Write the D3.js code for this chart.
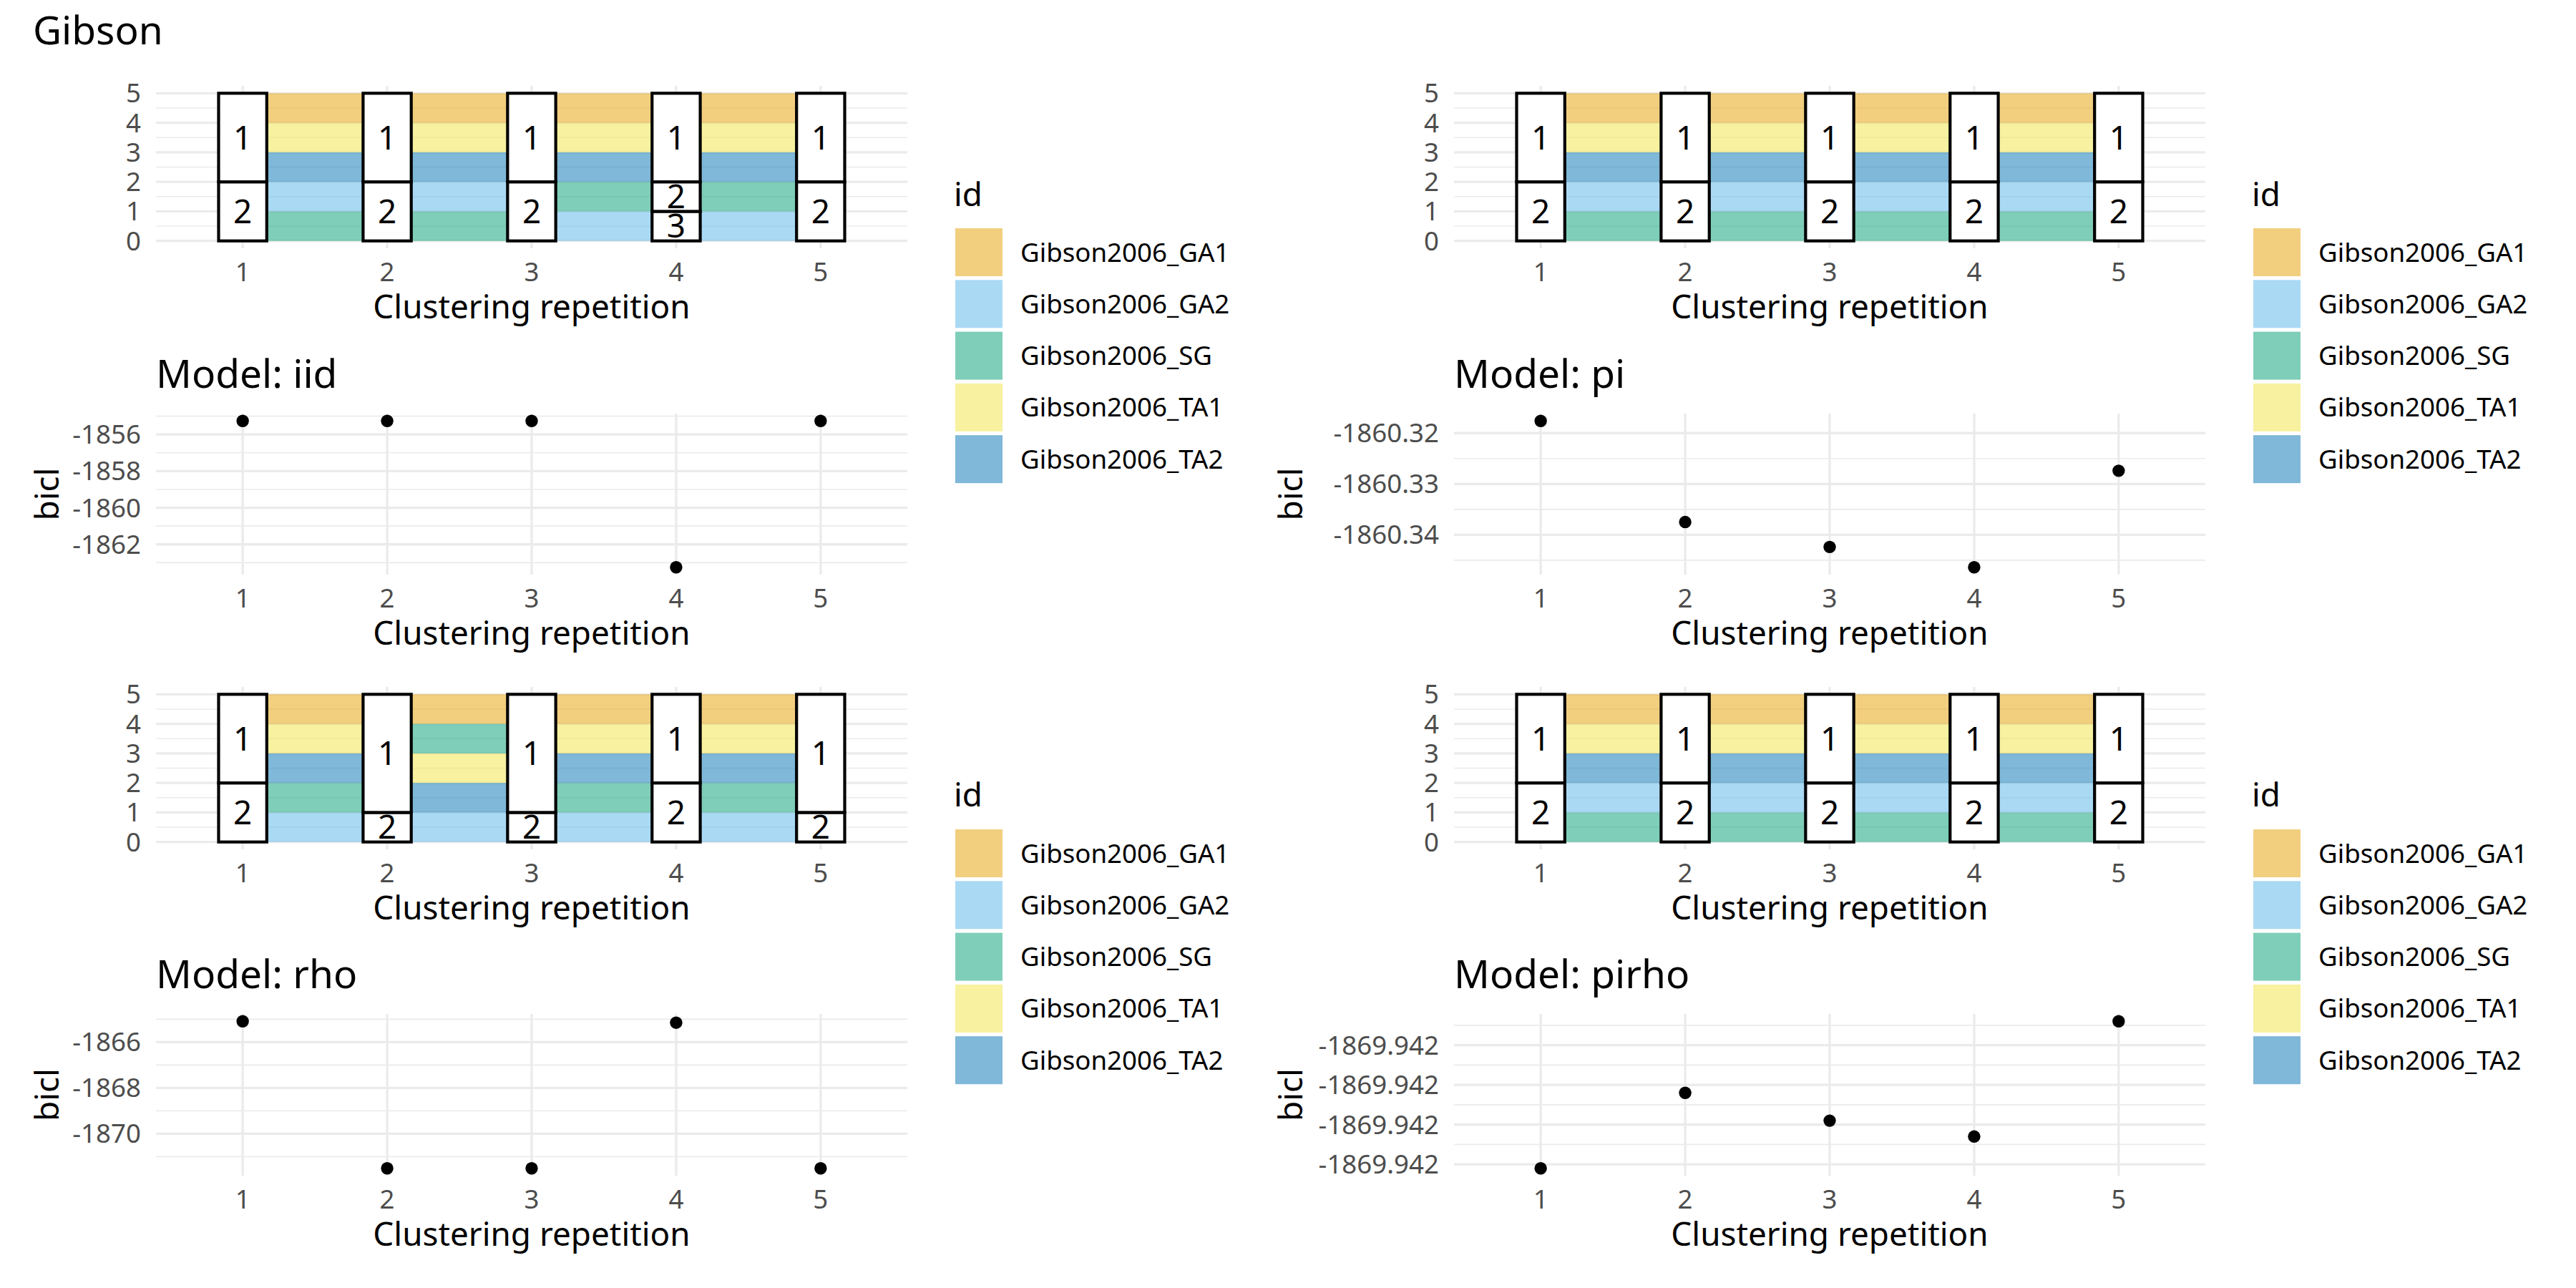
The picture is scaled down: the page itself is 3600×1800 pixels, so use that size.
<!DOCTYPE html>
<html><head><meta charset="utf-8">
<script src="https://cdn.jsdelivr.net/npm/d3@7"></script>
<style>
body{margin:0;background:#fff}
svg{display:block}
text{font-family:"Noto Sans",sans-serif}
</style>
</head><body>
<svg id="chart" width="3600" height="1800"></svg>
<script>
// ---------------- DATA ----------------
const reps = [1, 2, 3, 4, 5];
const ids = ["Gibson2006_GA1", "Gibson2006_GA2", "Gibson2006_SG", "Gibson2006_TA1", "Gibson2006_TA2"];
const idColors = ["#E69F00", "#56B4E9", "#009E73", "#F0E442", "#0072B2"];
const countTicks = [0, 1, 2, 3, 4, 5];

// stratum sizes / labels per repetition, bottom to top
const iidStrataSizes  = [[2, 3], [2, 3], [2, 3], [1, 1, 3], [2, 3]];
const iidStrataLabels = [["2", "1"], ["2", "1"], ["2", "1"], ["3", "2", "1"], ["2", "1"]];
const piStrataSizes   = [[2, 3], [2, 3], [2, 3], [2, 3], [2, 3]];
const piStrataLabels  = [["2", "1"], ["2", "1"], ["2", "1"], ["2", "1"], ["2", "1"]];
const rhoStrataSizes  = [[2, 3], [1, 4], [1, 4], [2, 3], [1, 4]];
const rhoStrataLabels = [["2", "1"], ["2", "1"], ["2", "1"], ["2", "1"], ["2", "1"]];
const pirhoStrataSizes  = [[2, 3], [2, 3], [2, 3], [2, 3], [2, 3]];
const pirhoStrataLabels = [["2", "1"], ["2", "1"], ["2", "1"], ["2", "1"], ["2", "1"]];

// flow order between consecutive repetitions, bottom to top (each id has size 1)
const iidFlows = [
  ["Gibson2006_SG", "Gibson2006_GA2", "Gibson2006_TA2", "Gibson2006_TA1", "Gibson2006_GA1"],
  ["Gibson2006_SG", "Gibson2006_GA2", "Gibson2006_TA2", "Gibson2006_TA1", "Gibson2006_GA1"],
  ["Gibson2006_GA2", "Gibson2006_SG", "Gibson2006_TA2", "Gibson2006_TA1", "Gibson2006_GA1"],
  ["Gibson2006_GA2", "Gibson2006_SG", "Gibson2006_TA2", "Gibson2006_TA1", "Gibson2006_GA1"]
];
const piFlows = [
  ["Gibson2006_SG", "Gibson2006_GA2", "Gibson2006_TA2", "Gibson2006_TA1", "Gibson2006_GA1"],
  ["Gibson2006_SG", "Gibson2006_GA2", "Gibson2006_TA2", "Gibson2006_TA1", "Gibson2006_GA1"],
  ["Gibson2006_SG", "Gibson2006_GA2", "Gibson2006_TA2", "Gibson2006_TA1", "Gibson2006_GA1"],
  ["Gibson2006_SG", "Gibson2006_GA2", "Gibson2006_TA2", "Gibson2006_TA1", "Gibson2006_GA1"]
];
const rhoFlows = [
  ["Gibson2006_GA2", "Gibson2006_SG", "Gibson2006_TA2", "Gibson2006_TA1", "Gibson2006_GA1"],
  ["Gibson2006_GA2", "Gibson2006_TA2", "Gibson2006_TA1", "Gibson2006_SG", "Gibson2006_GA1"],
  ["Gibson2006_GA2", "Gibson2006_SG", "Gibson2006_TA2", "Gibson2006_TA1", "Gibson2006_GA1"],
  ["Gibson2006_GA2", "Gibson2006_SG", "Gibson2006_TA2", "Gibson2006_TA1", "Gibson2006_GA1"]
];
const pirhoFlows = [
  ["Gibson2006_SG", "Gibson2006_GA2", "Gibson2006_TA2", "Gibson2006_TA1", "Gibson2006_GA1"],
  ["Gibson2006_SG", "Gibson2006_GA2", "Gibson2006_TA2", "Gibson2006_TA1", "Gibson2006_GA1"],
  ["Gibson2006_SG", "Gibson2006_GA2", "Gibson2006_TA2", "Gibson2006_TA1", "Gibson2006_GA1"],
  ["Gibson2006_SG", "Gibson2006_GA2", "Gibson2006_TA2", "Gibson2006_TA1", "Gibson2006_GA1"]
];

// bicl per repetition
const iidBicl   = [-1855.26, -1855.26, -1855.26, -1863.25, -1855.26];
const piBicl    = [-1860.3176, -1860.3375, -1860.3424, -1860.3464, -1860.3274];
const rhoBicl   = [-1865.09, -1871.51, -1871.51, -1865.15, -1871.51];
const pirhoBicl = [-1869.942031, -1869.942012, -1869.942019, -1869.942023, -1869.941994];

// y tick values and labels
const iidTicks = [-1862, -1860, -1858, -1856];
const iidTickLabels = ["-1862", "-1860", "-1858", "-1856"];
const piTicks = [-1860.34, -1860.33, -1860.32];
const piTickLabels = ["-1860.34", "-1860.33", "-1860.32"];
const rhoTicks = [-1870, -1868, -1866];
const rhoTickLabels = ["-1870", "-1868", "-1866"];
const pirhoTicks = [-1869.94203, -1869.94202, -1869.94201, -1869.942];
const pirhoTickLabels = ["-1869.942", "-1869.942", "-1869.942", "-1869.942"];

// ---------------- LAYOUT / STYLE ----------------
const svg = d3.select("#chart");
const PX = 4.1667;               // px per pt
const FS_TICK = 8.8 * PX, FS_AXIS = 11 * PX, FS_TITLE = 13.2 * PX, FS_LEG = 8.8 * PX;
const GRID = "#EBEBEB", MAJ = 3.3, MIN = 1.65, TICKCOL = "#4D4D4D", BOX = 4.2;
const cols = [{x0: 218, x1: 1268, ylabX: 82, legX: 1335}, {x0: 2032, x1: 3082, ylabX: 1820, legX: 3149}];
const alluvRows = [{y0: 120, y1: 347, legTitleY: 288, legKeyY: 319}, {y0: 960, y1: 1187, legTitleY: 1127, legKeyY: 1159}];
const scatRows = [{y0: 578, y1: 803}, {y0: 1417, y1: 1643}];

const color = d3.scaleOrdinal().domain(ids).range(idColors);

svg.append("text").attr("x", 46).attr("y", 62).attr("font-size", FS_TITLE).attr("fill", "#000").text("Gibson");

function xScaleFor(col) {
  return d3.scaleLinear().domain([d3.min(reps) - 0.6, d3.max(reps) + 0.6]).range([col.x0, col.x1]);
}
function minorOf(ticks, dom) {
  const step = ticks[1] - ticks[0];
  const out = [];
  for (let i = -1; i < ticks.length; i++) {
    const v = ticks[0] + (i + 0.5) * step;
    if (v >= dom[0] && v <= dom[1]) out.push(v);
  }
  return out;
}
function xAxisCommon(g, x, row, col) {
  g.selectAll(".xt").data(reps).join("text")
    .attr("x", d => x(d)).attr("y", row.y1 + 45.5).attr("text-anchor", "middle")
    .attr("font-size", FS_TICK).attr("fill", TICKCOL).text(d => d);
  g.append("text").attr("x", (col.x0 + col.x1) / 2).attr("y", row.y1 + 98)
    .attr("text-anchor", "middle").attr("font-size", FS_AXIS).attr("fill", "#000").text("Clustering repetition");
}
function yGrid(g, y, ticks, minors, col) {
  g.selectAll(".ymin").data(minors).join("line")
    .attr("x1", col.x0).attr("x2", col.x1).attr("y1", d => y(d)).attr("y2", d => y(d))
    .attr("stroke", GRID).attr("stroke-width", MIN);
  g.selectAll(".ymaj").data(ticks).join("line")
    .attr("x1", col.x0).attr("x2", col.x1).attr("y1", d => y(d)).attr("y2", d => y(d))
    .attr("stroke", GRID).attr("stroke-width", MAJ);
}
function xGrid(g, x, y) {
  const r = y.range();
  g.selectAll(".xmaj").data(reps).join("line")
    .attr("x1", d => x(d)).attr("x2", d => x(d)).attr("y1", r[0]).attr("y2", r[1])
    .attr("stroke", GRID).attr("stroke-width", MAJ);
}

function drawAlluvial(col, row, sizes, labels, flows) {
  const g = svg.append("g");
  const x = xScaleFor(col);
  const total = d3.sum(sizes[0]);
  const y = d3.scaleLinear().domain([0 - 0.05 * total, total * 1.05]).range([row.y1, row.y0]);
  const ticks = countTicks;
  yGrid(g, y, ticks, minorOf(ticks, y.domain()), col);
  xGrid(g, x, y);
  const hw = 1 / 6;
  // flows
  const flowData = [];
  flows.forEach((order, gi) => {
    let cum = 0;
    order.forEach(id => { flowData.push({gap: gi, id, y0: cum, y1: cum + 1}); cum += 1; });
  });
  g.selectAll(".flow").data(flowData).join("rect")
    .attr("x", d => x(reps[d.gap] + hw)).attr("width", d => x(reps[d.gap + 1] - hw) - x(reps[d.gap] + hw))
    .attr("y", d => y(d.y1)).attr("height", d => y(d.y0) - y(d.y1))
    .attr("fill", d => color(d.id)).attr("fill-opacity", 0.5);
  // strata
  const strata = [];
  sizes.forEach((s, ri) => {
    let cum = 0;
    s.forEach((v, k) => { strata.push({rep: reps[ri], y0: cum, y1: cum + v, label: labels[ri][k]}); cum += v; });
  });
  g.selectAll(".stratum").data(strata).join("rect")
    .attr("x", d => x(d.rep - hw)).attr("width", x(1 + hw) - x(1 - hw))
    .attr("y", d => y(d.y1)).attr("height", d => y(d.y0) - y(d.y1))
    .attr("fill", "#fff").attr("stroke", "#000").attr("stroke-width", BOX);
  g.selectAll(".slab").data(strata).join("text")
    .attr("x", d => x(d.rep)).attr("y", d => y((d.y0 + d.y1) / 2) + 0.357 * FS_AXIS)
    .attr("text-anchor", "middle").attr("font-size", FS_AXIS).attr("fill", "#000").text(d => d.label);
  // y tick labels
  g.selectAll(".yt").data(ticks).join("text")
    .attr("x", col.x0 - 21).attr("y", d => y(d) + 0.357 * FS_TICK).attr("text-anchor", "end")
    .attr("font-size", FS_TICK).attr("fill", TICKCOL).text(d => d);
  xAxisCommon(g, x, row, col);
  // legend
  const lg = svg.append("g");
  lg.append("text").attr("x", col.legX - 2).attr("y", row.legTitleY).attr("font-size", FS_AXIS).attr("fill", "#000").text("id");
  const step = 72.3, kw = 66, kh = 67;
  lg.selectAll(".key").data(ids).join("rect")
    .attr("x", col.legX).attr("y", (d, i) => row.legKeyY + i * step).attr("width", kw).attr("height", kh)
    .attr("fill", d => color(d)).attr("fill-opacity", 0.5);
  lg.selectAll(".klab").data(ids).join("text")
    .attr("x", col.legX + kw + 25).attr("y", (d, i) => row.legKeyY + i * step + kh / 2 + 0.355 * FS_LEG)
    .attr("font-size", FS_LEG).attr("fill", "#000").text(d => d);
}

function drawScatter(col, row, vals, ticks, tickLabels, title) {
  const g = svg.append("g");
  const x = xScaleFor(col);
  const ext = d3.extent(vals);
  const pad = (ext[1] - ext[0]) * 0.05;
  const y = d3.scaleLinear().domain([ext[0] - pad, ext[1] + pad]).range([row.y1, row.y0]);
  yGrid(g, y, ticks, minorOf(ticks, y.domain()), col);
  xGrid(g, x, y);
  g.selectAll(".pt").data(vals).join("circle")
    .attr("cx", (d, i) => x(reps[i])).attr("cy", d => y(d)).attr("r", 8.7).attr("fill", "#000");
  g.selectAll(".yt").data(ticks).join("text")
    .attr("x", col.x0 - 21).attr("y", d => y(d) + 0.357 * FS_TICK).attr("text-anchor", "end")
    .attr("font-size", FS_TICK).attr("fill", TICKCOL).text((d, i) => tickLabels[i]);
  xAxisCommon(g, x, row, col);
  g.append("text").attr("x", col.x0).attr("y", row.y0 - 36).attr("font-size", FS_TITLE).attr("fill", "#000").text(title);
  const cy = (row.y0 + row.y1) / 2;
  g.append("text").attr("transform", `translate(${col.ylabX},${cy}) rotate(-90)`)
    .attr("text-anchor", "middle").attr("font-size", FS_AXIS).attr("fill", "#000").text("bicl");
}

drawAlluvial(cols[0], alluvRows[0], iidStrataSizes, iidStrataLabels, iidFlows);
drawScatter(cols[0], scatRows[0], iidBicl, iidTicks, iidTickLabels, "Model: iid");
drawAlluvial(cols[1], alluvRows[0], piStrataSizes, piStrataLabels, piFlows);
drawScatter(cols[1], scatRows[0], piBicl, piTicks, piTickLabels, "Model: pi");
drawAlluvial(cols[0], alluvRows[1], rhoStrataSizes, rhoStrataLabels, rhoFlows);
drawScatter(cols[0], scatRows[1], rhoBicl, rhoTicks, rhoTickLabels, "Model: rho");
drawAlluvial(cols[1], alluvRows[1], pirhoStrataSizes, pirhoStrataLabels, pirhoFlows);
drawScatter(cols[1], scatRows[1], pirhoBicl, pirhoTicks, pirhoTickLabels, "Model: pirho");
</script>
</body></html>
